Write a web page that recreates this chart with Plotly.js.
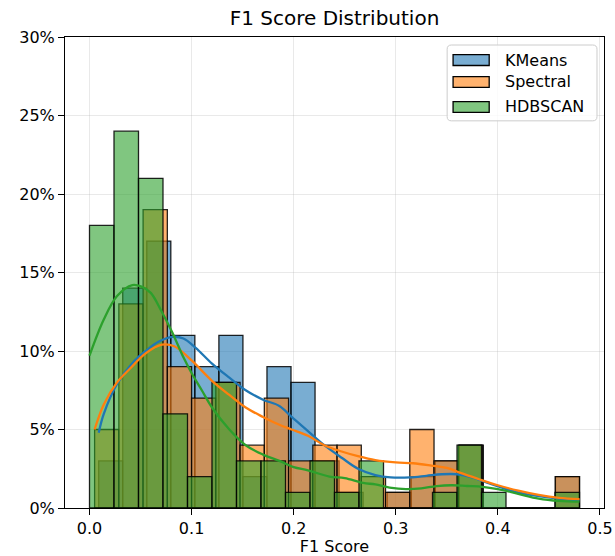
<!DOCTYPE html>
<html>
<head>
<meta charset="utf-8">
<script src="https://cdn.plot.ly/plotly-3.0.1.min.js"></script>
<style>
  html, body { margin: 0; padding: 0; background: #fff; }
  #chart { width: 615px; height: 556px; }
</style>
</head>
<body>
<div id="chart"></div>
<script>
// Percent of samples per bin (20 equal-width bins between each method's min and max F1)
const kmeansRange   = [0.009, 0.48];
const kmeansPct     = [3, 14, 17, 11, 9, 11, 2, 9, 8, 3, 1, 0, 1, 2, 3, 4, 0, 0, 0, 2];
const spectralRange = [0.005, 0.48];
const spectralPct   = [5, 13, 19, 9, 7, 8, 4, 7, 3, 4, 4, 2, 1, 5, 3, 4, 0, 0, 0, 2];
const hdbscanRange  = [0.0, 0.48];
const hdbscanPct    = [18, 24, 21, 6, 2, 8, 3, 3, 1, 3, 1, 3, 0, 0, 1, 4, 1, 0, 0, 1];

// Kernel density estimates, scaled to percent
const kmeansKdeX   = [0.009, 0.014, 0.027, 0.043, 0.055, 0.068, 0.081, 0.092, 0.104, 0.12, 0.137, 0.153, 0.17, 0.186, 0.198, 0.214, 0.23, 0.247, 0.263, 0.28, 0.295, 0.314, 0.33, 0.345, 0.36, 0.375, 0.39, 0.406, 0.42, 0.44, 0.46, 0.48];
const kmeansKdeY   = [4.8, 6.0, 7.9, 9.3, 10.0, 10.6, 10.9, 10.8, 10.2, 9.2, 8.3, 7.5, 6.9, 6.5, 5.8, 4.9, 4.0, 3.2, 2.5, 2.1, 1.95, 1.95, 2.05, 2.15, 2.15, 1.95, 1.6, 1.25, 1.0, 0.76, 0.6, 0.5];
const spectralKdeX = [0.005, 0.014, 0.027, 0.04, 0.055, 0.071, 0.083, 0.10, 0.12, 0.137, 0.153, 0.17, 0.186, 0.198, 0.214, 0.23, 0.247, 0.263, 0.28, 0.30, 0.317, 0.335, 0.35, 0.365, 0.383, 0.40, 0.42, 0.44, 0.46, 0.48];
const spectralKdeY = [5.0, 6.6, 8.0, 8.9, 9.85, 10.4, 10.3, 9.4, 8.1, 7.2, 6.4, 5.8, 5.3, 5.0, 4.6, 4.0, 3.6, 3.3, 3.05, 2.9, 2.85, 2.7, 2.55, 2.2, 1.8, 1.45, 1.1, 0.83, 0.65, 0.57];
const hdbscanKdeX  = [0.0, 0.014, 0.027, 0.042, 0.051, 0.06, 0.07, 0.081, 0.092, 0.10, 0.11, 0.12, 0.137, 0.153, 0.17, 0.186, 0.20, 0.214, 0.235, 0.25, 0.268, 0.28, 0.294, 0.31, 0.325, 0.34, 0.355, 0.37, 0.385, 0.40, 0.42, 0.44, 0.46, 0.48];
const hdbscanKdeY  = [9.7, 12.0, 13.5, 14.2, 14.1, 13.7, 12.6, 11.2, 9.6, 8.6, 7.5, 6.4, 5.0, 4.0, 3.4, 3.0, 2.6, 2.4, 2.0, 1.9, 1.6, 1.5, 1.3, 1.2, 1.25, 1.4, 1.45, 1.4, 1.35, 1.2, 0.9, 0.6, 0.45, 0.4];

const seriesNames = ['KMeans', 'Spectral', 'HDBSCAN'];
const xTicks = [0, 0.1, 0.2, 0.3, 0.4, 0.5];
const yTicks = [0, 5, 10, 15, 20, 25, 30];
const yTickText = ['0%', '5%', '10%', '15%', '20%', '25%', '30%'];

const FONT = 'DejaVu Sans, sans-serif';
const fillAlpha = 0.6;
const palette = [[31, 119, 180], [255, 127, 14], [44, 160, 44]];
const rgba = (c, a) => `rgba(${c[0]},${c[1]},${c[2]},${a})`;

function histTrace(range, pct, color) {
  const w = (range[1] - range[0]) / pct.length;
  return {
    type: 'bar',
    x: pct.map((_, i) => range[0] + w * (i + 0.5)),
    y: pct,
    width: w,
    marker: { color: rgba(color, fillAlpha), line: { color: 'rgba(0,0,0,0.85)', width: 1.3 } },
    showlegend: false,
    hoverinfo: 'skip'
  };
}

function kdeTrace(xs, ys, color) {
  return {
    type: 'scatter', mode: 'lines', x: xs, y: ys,
    line: { color: rgba(color, 1), width: 2.3, shape: 'spline', smoothing: 1 },
    showlegend: false, hoverinfo: 'skip'
  };
}

const traces = [
  histTrace(kmeansRange, kmeansPct, palette[0]),
  histTrace(spectralRange, spectralPct, palette[1]),
  histTrace(hdbscanRange, hdbscanPct, palette[2]),
  kdeTrace(kmeansKdeX, kmeansKdeY, palette[0]),
  kdeTrace(spectralKdeX, spectralKdeY, palette[1]),
  kdeTrace(hdbscanKdeX, hdbscanKdeY, palette[2])
];

// Legend box and entries (paper coordinates)
const box = { x0: 0.709, x1: 0.987, y0: 0.822, y1: 0.983 };
const rx = 0.008, ry = 0.009;
const boxPath = `M${box.x0 + rx},${box.y0} L${box.x1 - rx},${box.y0} Q${box.x1},${box.y0} ${box.x1},${box.y0 + ry} ` +
  `L${box.x1},${box.y1 - ry} Q${box.x1},${box.y1} ${box.x1 - rx},${box.y1} L${box.x0 + rx},${box.y1} ` +
  `Q${box.x0},${box.y1} ${box.x0},${box.y1 - ry} L${box.x0},${box.y0 + ry} Q${box.x0},${box.y0} ${box.x0 + rx},${box.y0} Z`;
const shapes = [{
  type: 'path', xref: 'paper', yref: 'paper', path: boxPath,
  fillcolor: 'rgba(255,255,255,0.8)', line: { color: '#cccccc', width: 1 }
}];
const annotations = [];
const rowY = [0.951, 0.9045, 0.8514];
seriesNames.forEach((name, i) => {
  shapes.push({
    type: 'rect', xref: 'paper', yref: 'paper',
    x0: 0.720, x1: 0.787, y0: rowY[i] - 0.0115, y1: rowY[i] + 0.0115,
    fillcolor: rgba(palette[i], fillAlpha), line: { color: '#000', width: 1.3 }
  });
  annotations.push({
    xref: 'paper', yref: 'paper', x: 0.8126, y: rowY[i], xanchor: 'left', yanchor: 'middle',
    text: name, showarrow: false, font: { family: FONT, size: 16, color: '#000' }
  });
});

const axisCommon = {
  showline: true, mirror: true, linecolor: '#000', linewidth: 1,
  ticks: 'outside', ticklen: 6, tickwidth: 1, tickcolor: '#000',
  showgrid: true, gridcolor: 'rgba(176,176,176,0.35)', gridwidth: 0.8,
  zeroline: false,
  tickfont: { family: FONT, size: 16, color: '#000' }
};

const layout = {
  width: 615, height: 556,
  margin: { l: 65, r: 11, t: 37, b: 48 },
  paper_bgcolor: '#fff', plot_bgcolor: '#fff',
  barmode: 'overlay', bargap: 0,
  title: {
    text: 'F1 Score Distribution', x: 0.5, xref: 'paper', xanchor: 'center',
    y: 1 - 18 / 556, yref: 'container', yanchor: 'middle',
    font: { family: FONT, size: 20, color: '#000' }
  },
  xaxis: Object.assign({}, axisCommon, {
    range: [-0.024, 0.504], tickmode: 'array', tickvals: xTicks, tickformat: '.1f',
    title: { text: 'F1 Score', font: { family: FONT, size: 16, color: '#000' }, standoff: 6 }
  }),
  yaxis: Object.assign({}, axisCommon, {
    range: [0, 30], tickmode: 'array', tickvals: yTicks, ticktext: yTickText
  }),
  shapes: shapes,
  annotations: annotations,
  showlegend: false
};

Plotly.newPlot('chart', traces, layout, { displayModeBar: false, staticPlot: true });
</script>
</body>
</html>
